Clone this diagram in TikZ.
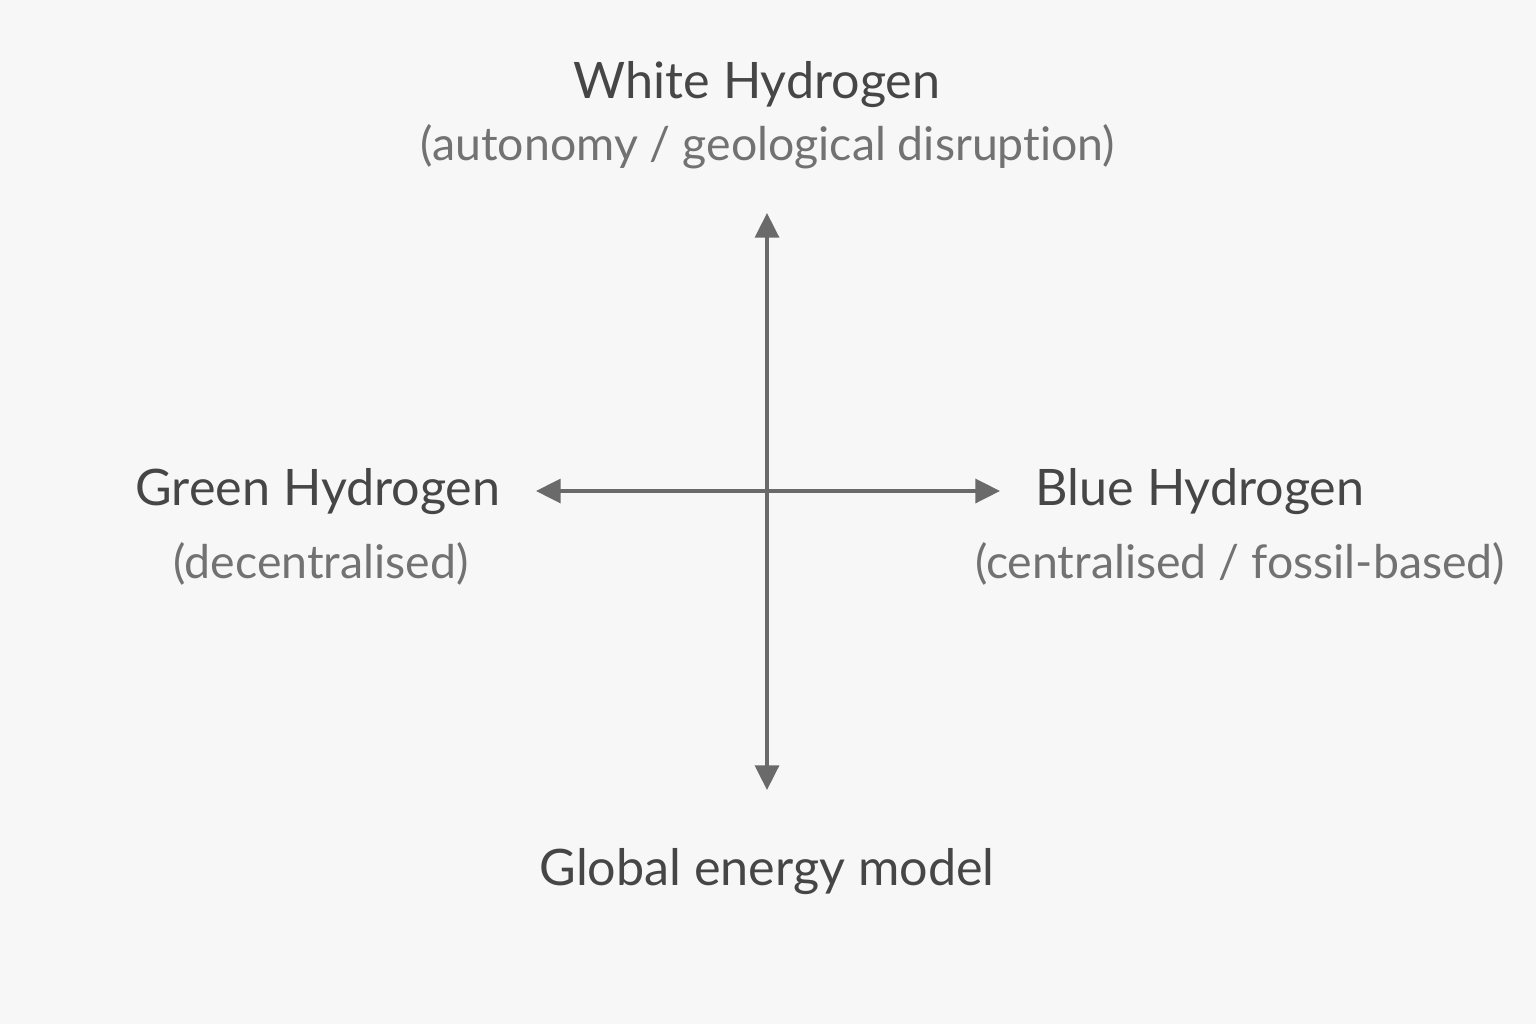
\documentclass[tikz,border=0pt]{standalone}
\usepackage{fontspec}
\setmainfont{Lato}[Ligatures={NoCommon,NoRare,TeX}]
\usepackage{xcolor}
\usetikzlibrary{arrows.meta,positioning}
\definecolor{bgcol}{HTML}{F7F7F7}
\definecolor{axiscol}{HTML}{6A6A6A}
\definecolor{titlecol}{HTML}{464646}
\definecolor{subcol}{HTML}{727272}

\begin{document}
\begin{tikzpicture}[x=0.01cm,y=-0.01cm,
		axis/.style={<->,>={Triangle[length=7pt,width=6.8pt]},draw=axiscol,line width=1pt},
		title/.style={anchor=base,text=titlecol,font=\fontsize{14.3}{17}\selectfont,inner sep=0pt},
		sub/.style={anchor=base,text=subcol,font=\fontsize{13.2}{16}\selectfont,inner sep=0pt}]
		\fill[bgcol] (0,0) rectangle (1536,1024);
		\useasboundingbox (0,0) rectangle (1536,1024);

		\coordinate (top) at (767,213);
		\coordinate (bottom) at (767,790);
		\coordinate (left) at (536,491);
		\coordinate (right) at (1000,491);

		\draw[axis] (bottom) -- (top);
		\draw[axis] (left) -- (right);

		\node[title] (white) at (757,98) {White Hydrogen};
		\node[sub] (whitesub) at (768,160) {(autonomy / geological disruption)};
		\node[title] (green) at (318,505) {Green Hydrogen};
		\node[sub] (greensub) at (321,578) {(decentralised)};
		\node[title] (blue) at (1200,505) {Blue Hydrogen};
		\node[sub] (bluesub) at (1240,578) {(centralised / fossil-based)};
		\node[title] (global) at (767,885) {Global energy model};
	\end{tikzpicture}
\end{document}
